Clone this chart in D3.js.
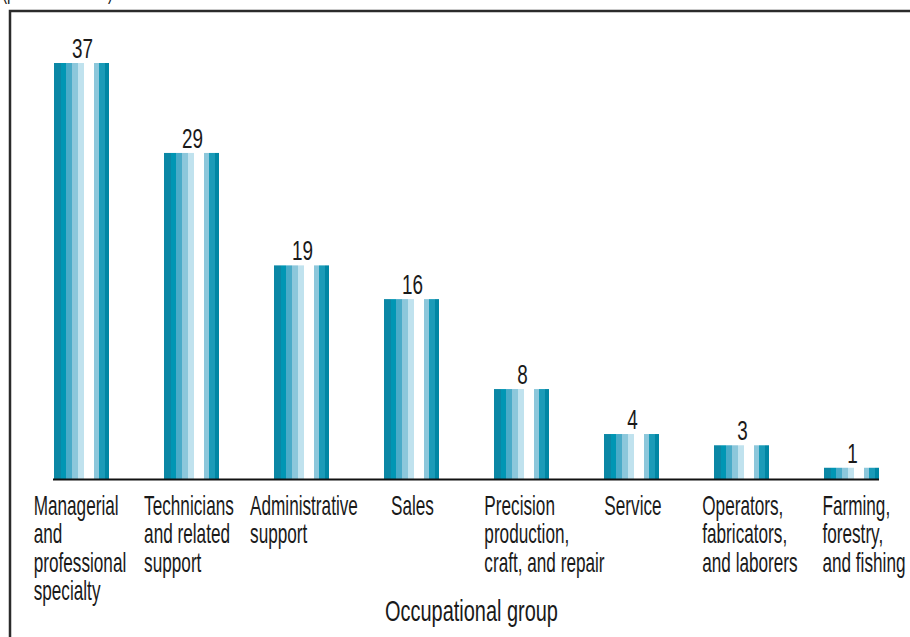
<!DOCTYPE html>
<html>
<head>
<meta charset="utf-8">
<script src="https://cdn.jsdelivr.net/npm/d3@7/dist/d3.min.js"></script>
<style>
  html, body { margin: 0; padding: 0; background: #fff; }
  svg { display: block; }
  text { font-family: "Liberation Sans Narrow", "Liberation Sans", Arial, sans-serif; fill: #1a1a1a; }
</style>
</head>
<body>
<svg id="chart" width="910" height="637"></svg>
<script>
// Occupational groups, one line of the label per entry
const categories = [
  ["Managerial", "and", "professional", "specialty"],
  ["Technicians", "and related", "support"],
  ["Administrative", "support"],
  ["Sales"],
  ["Precision", "production,", "craft, and repair"],
  ["Service"],
  ["Operators,", "fabricators,", "and laborers"],
  ["Farming,", "forestry,", "and fishing"]
];
// Share of the total, percent
const values = [37, 29, 19, 16, 8, 4, 3, 1];
const unitLabel = "(percent of total)";
const axisTitle = "Occupational group";

// Layout
const plot = { left: 54, right: 879, top: 63, base: 479 };
const labelShift = [-1.5, -2.5, 2.5, 1, 23, 1.5, 8.5, 12.5];
const fontSize = 27;

// Bar stripes: relative widths and fills, left to right
const stripeWidths = [7, 5, 6, 6, 6, 10, 5, 6, 4];
const stripeFills = ["#0b87a5", "#0096b4", "#4aabc8", "#8cc7db", "#c0e2ee",
                     "#ffffff", "#8cc7db", "#1b9bb8", "#0086a4"];

const svg = d3.select("#chart");
const ids = d3.range(categories.length);

// Horizontal squeeze that gives a string a wanted width in the condensed lettering
function squeeze(str, size, wanted) {
  const probe = svg.append("text").attr("font-size", size).text(str);
  const w = probe.node().getComputedTextLength();
  probe.remove();
  return wanted / w;
}
const labelSx = squeeze("Managerial", fontSize, 85);
const numberSx = squeeze("37", fontSize, 21);
const titleSx = squeeze(axisTitle, 29, 173);

const x = d3.scaleBand().domain(ids).range([plot.left, plot.right])
  .paddingInner(0.5).paddingOuter(0);
const y = d3.scaleLinear().domain([0, d3.max(values)]).range([plot.base, plot.top]);

// Hard-edged striped fill shared by every bar
const grad = svg.append("defs").append("linearGradient")
  .attr("id", "stripes").attr("x1", 0).attr("x2", 1).attr("y1", 0).attr("y2", 0);
const total = d3.sum(stripeWidths);
let acc = 0;
stripeWidths.forEach((w, i) => {
  grad.append("stop").attr("offset", acc / total).attr("stop-color", stripeFills[i]);
  acc += w;
  grad.append("stop").attr("offset", acc / total).attr("stop-color", stripeFills[i]);
});

// Frame
svg.append("rect")
  .attr("x", 10).attr("y", 11).attr("width", 1000).attr("height", 1000)
  .attr("fill", "none").attr("stroke", "#2b2b2b").attr("stroke-width", 2.5);

// Unit note above the frame
svg.append("g").attr("transform", `translate(2,-1) scale(${labelSx},1)`)
  .append("text").attr("font-size", 24).text(unitLabel);

// Bars
svg.append("g").selectAll("rect").data(ids).join("rect")
  .attr("x", i => x(i))
  .attr("y", i => y(values[i]))
  .attr("width", x.bandwidth())
  .attr("height", i => y(0) - y(values[i]))
  .attr("fill", "url(#stripes)");

// Baseline
svg.append("line")
  .attr("x1", plot.left - 1).attr("x2", plot.right)
  .attr("y1", y(0) + 0.5).attr("y2", y(0) + 0.5)
  .attr("stroke", "#111").attr("stroke-width", 2);

// Value labels
svg.append("g").selectAll("g").data(ids).join("g")
  .attr("transform", i => `translate(${x(i) + x.bandwidth() / 2 + 1},${y(values[i]) - 5}) scale(${numberSx},1)`)
  .append("text")
  .attr("text-anchor", "middle")
  .attr("font-size", fontSize)
  .text(i => values[i]);

// Category labels: left-aligned blocks centred under each bar
const lineGap = 28.5;
const labelGroups = svg.append("g").selectAll("g").data(ids).join("g");
labelGroups.each(function (i) {
  const g = d3.select(this);
  const t = g.append("text").attr("font-size", fontSize);
  t.selectAll("tspan").data(categories[i]).join("tspan")
    .attr("x", 0)
    .attr("y", (d, k) => k * lineGap)
    .text(d => d);
  let maxW = 0;
  t.selectAll("tspan").each(function () {
    maxW = Math.max(maxW, this.getComputedTextLength());
  });
  const left = x(i) + x.bandwidth() / 2 - (maxW * labelSx) / 2 + labelShift[i];
  g.attr("transform", `translate(${left},515) scale(${labelSx},1)`);
});

// Axis title
svg.append("g").attr("transform", `translate(${(plot.left + plot.right) / 2 + 5},621) scale(${titleSx},1)`)
  .append("text")
  .attr("text-anchor", "middle")
  .attr("font-size", 29)
  .text(axisTitle);
</script>
</body>
</html>
